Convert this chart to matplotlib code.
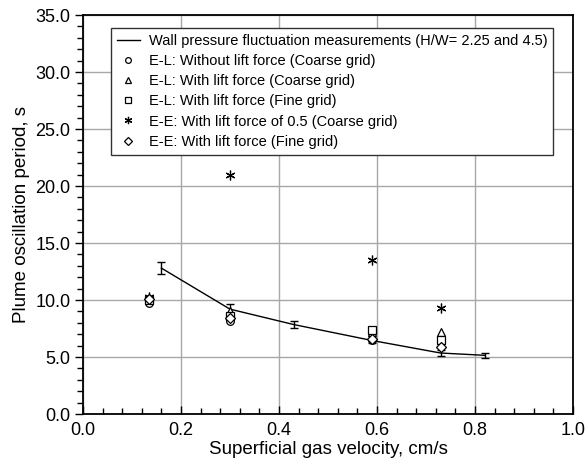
import matplotlib
matplotlib.use("Agg")
import matplotlib.pyplot as plt
from matplotlib.ticker import MultipleLocator, FormatStrFormatter

plt.rcParams['font.family'] = ['Liberation Sans', 'DejaVu Sans']

# Experimental data (wall pressure fluctuation measurements)
exp_x = [0.16, 0.30, 0.43, 0.59, 0.73, 0.82]
exp_y = [12.8, 9.2, 7.85, 6.45, 5.35, 5.15]
exp_err = [0.55, 0.45, 0.3, 0.2, 0.25, 0.2]

# Simulations
el_nolift_x = [0.135, 0.30, 0.59, 0.73]
el_nolift_y = [9.7, 8.2, 6.5, 6.3]

el_lift_coarse_x = [0.135, 0.30, 0.59, 0.73]
el_lift_coarse_y = [10.2, 9.0, 7.2, 7.2]

el_lift_fine_x = [0.135, 0.30, 0.59, 0.73]
el_lift_fine_y = [10.0, 8.6, 7.35, 6.5]

ee_lift05_x = [0.135, 0.30, 0.59, 0.73]
ee_lift05_y = [10.3, 21.0, 13.5, 9.3]

ee_lift_fine_x = [0.135, 0.30, 0.59, 0.73]
ee_lift_fine_y = [10.1, 8.4, 6.6, 5.9]

labels = [
    "Wall pressure fluctuation measurements (H/W= 2.25 and 4.5)",
    "E-L: Without lift force (Coarse grid)",
    "E-L: With lift force (Coarse grid)",
    "E-L: With lift force (Fine grid)",
    "E-E: With lift force of 0.5 (Coarse grid)",
    "E-E: With lift force (Fine grid)",
]

fig = plt.figure(figsize=(5.87, 4.71), dpi=100)
ax = fig.add_axes([0.1414, 0.121, 0.8346, 0.847])

ax.plot(exp_x, exp_y, color='black', lw=1.0, label=labels[0], zorder=3)
ax.errorbar(exp_x, exp_y, yerr=exp_err, fmt='none', ecolor='black',
            elinewidth=1.0, capsize=3, capthick=1.0, zorder=3)

mk = dict(linestyle='none', color='black', markerfacecolor='white',
          markeredgecolor='black', markersize=5.5, markeredgewidth=0.9, zorder=4)
ax.plot(el_nolift_x, el_nolift_y, marker='o', label=labels[1], **mk)
ax.plot(el_lift_coarse_x, el_lift_coarse_y, marker='^', label=labels[2], **mk)
ax.plot(el_lift_fine_x, el_lift_fine_y, marker='s', label=labels[3], **mk)
ax.plot(ee_lift05_x, ee_lift05_y, marker=(6, 2, 0), linestyle='none',
        color='black', markersize=7, markeredgewidth=0.9, label=labels[4], zorder=4)
ax.plot(ee_lift_fine_x, ee_lift_fine_y, marker='D', label=labels[5],
        **{**mk, 'markersize': 5})

ax.set_xlim(0, 1.0)
ax.set_ylim(0, 35)
ax.xaxis.set_major_locator(MultipleLocator(0.2))
ax.xaxis.set_minor_locator(MultipleLocator(0.04))
ax.yaxis.set_major_locator(MultipleLocator(5))
ax.yaxis.set_minor_locator(MultipleLocator(1))
ax.xaxis.set_major_formatter(FormatStrFormatter('%.1f'))
ax.yaxis.set_major_formatter(FormatStrFormatter('%.1f'))

ax.grid(True, which='major', color='#a8a8a8', lw=1.0, zorder=0)
ax.set_axisbelow(True)

ax.tick_params(axis='x', which='both', direction='in', labelsize=13, pad=6)
ax.tick_params(axis='x', which='major', length=6, width=1)
ax.tick_params(axis='x', which='minor', length=4, width=1)
ax.tick_params(axis='y', which='both', direction='out', labelsize=13, pad=3)
ax.tick_params(axis='y', which='major', length=6, width=1)
ax.tick_params(axis='y', which='minor', length=4, width=1)

for s in ax.spines.values():
    s.set_linewidth(1.3)
    s.set_color('black')

ax.set_xlabel("Superficial gas velocity, cm/s", fontsize=13.5, labelpad=1)
ax.set_ylabel("Plume oscillation period, s", fontsize=13.5, labelpad=4)

leg = ax.legend(loc='upper left', bbox_to_anchor=(0.057, 0.967),
                borderaxespad=0, fontsize=10.5, frameon=True, fancybox=False,
                edgecolor='#333333', framealpha=1, handlelength=1.6,
                handletextpad=0.6, labelspacing=0.42, borderpad=0.4,
                markerscale=0.75)
leg.get_frame().set_linewidth(1.0)

fig.savefig("out.png", dpi=100)
